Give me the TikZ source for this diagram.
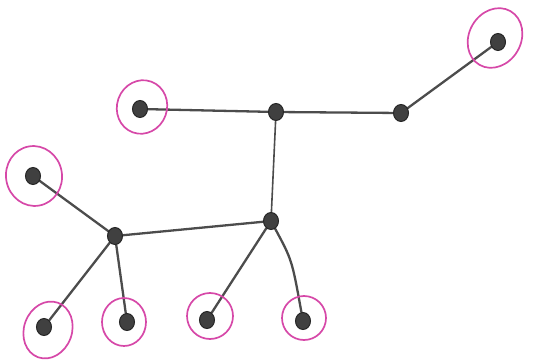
\documentclass[tikz,border=0pt]{standalone}
\usetikzlibrary{shapes.geometric,backgrounds}
\begin{document}
\begin{tikzpicture}[x=1pt,y=-1pt,
  vtx/.style={ellipse,fill=black!75,draw=black!85,line width=1pt,minimum width=15pt,minimum height=17pt,inner sep=0pt},
  ring/.style={draw=pinkmark,line width=1.7pt},
  edge/.style={draw=black!70,line width=2.3pt,line cap=round}]
\definecolor{pinkmark}{RGB}{214,72,168}
\useasboundingbox (0,0) rectangle (534,363);
\node[vtx] (A) at (140,109) {};
\node[vtx] (B) at (276,112) {};
\node[vtx] (C) at (401,113) {};
\node[vtx] (D) at (498,42) {};
\node[vtx] (E) at (271,221) {};
\node[vtx] (F) at (115,236) {};
\node[vtx] (G) at (33,176) {};
\node[vtx] (H) at (44,327) {};
\node[vtx] (I) at (127,322) {};
\node[vtx] (J) at (207,320) {};
\node[vtx] (K) at (303,321) {};
\begin{scope}[on background layer]
\draw[edge] (A) -- (B);
\draw[edge] (B) -- (C);
\draw[edge] (C) -- (D);
\draw[edge,line width=1.6pt] (B) -- (E);
\draw[edge] (E) -- (F);
\draw[edge] (F) -- (G);
\draw[edge] (F) -- (H);
\draw[edge] (F) -- (I);
\draw[edge] (E) -- (J);
\draw[edge] (E) .. controls (292,260) .. (K);
\end{scope}
\draw[ring,rotate around={-20:(142,107)}] (142,107) ellipse (25 and 27);
\draw[ring,rotate around={-30:(495,38)}] (495,38) ellipse (26 and 31);
\draw[ring,rotate around={10:(34,176)}] (34,176) ellipse (28 and 30);
\draw[ring,rotate around={-20:(48,330)}] (48,330) ellipse (24 and 29);
\draw[ring] (124,322) ellipse (22 and 24);
\draw[ring] (210,316) ellipse (23 and 23);
\draw[ring] (304,318) ellipse (22 and 22);
\end{tikzpicture}
\end{document}
